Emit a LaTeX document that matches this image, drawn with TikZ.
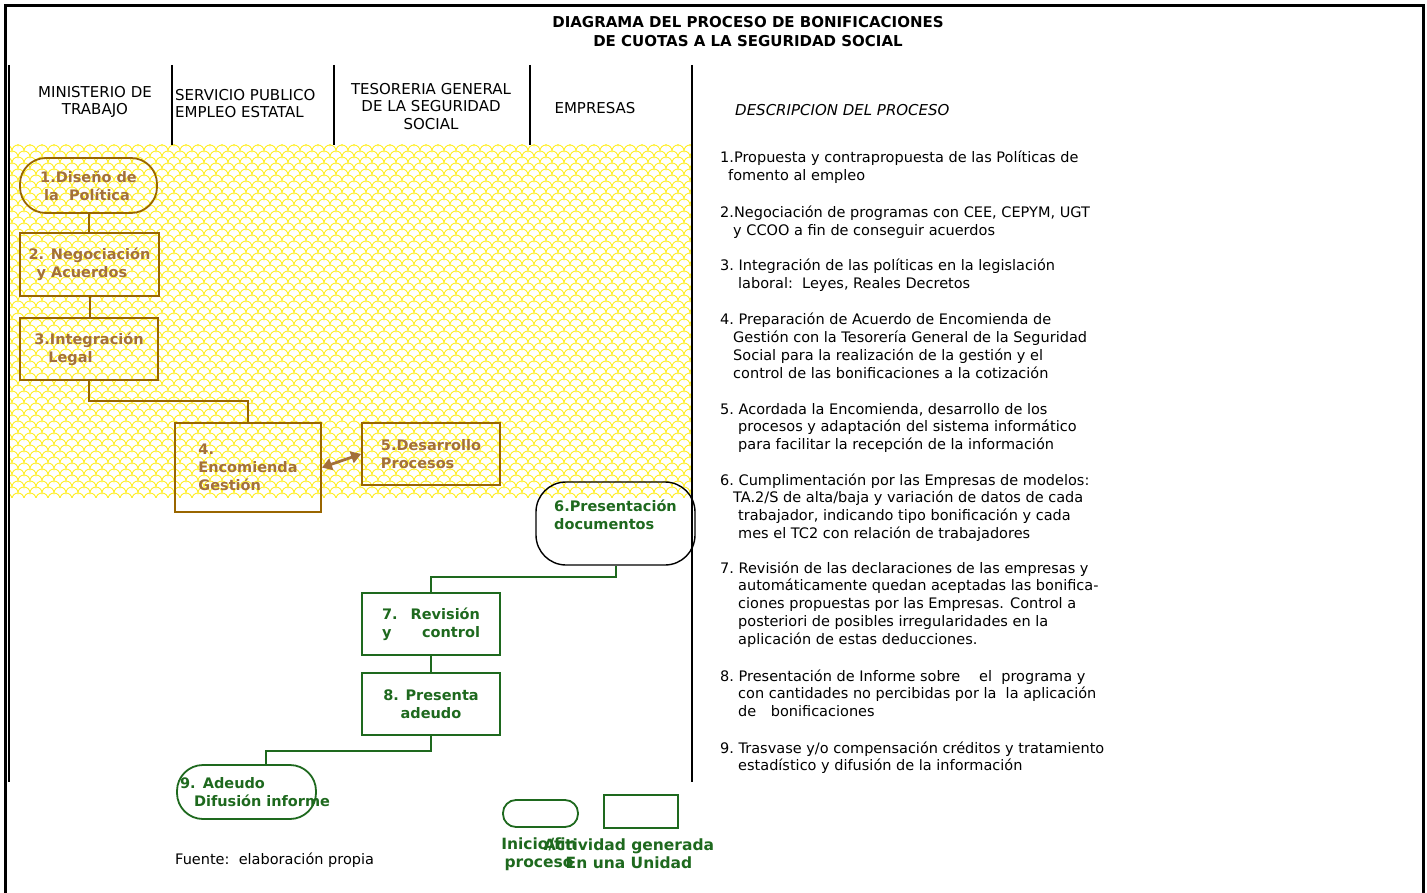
\documentclass[tikz,border=0pt]{standalone}
\usepackage{fontspec}
\setmainfont{DejaVu Sans}[BoldFont={DejaVu Sans Bold},ItalicFont={DejaVu Sans Oblique}]
\usetikzlibrary{positioning,arrows.meta}
\definecolor{bordemarron}{RGB}{153,102,0}
\definecolor{textomarron}{RGB}{163,112,58}
\definecolor{verdeosc}{RGB}{30,105,30}
\definecolor{amarillo}{RGB}{255,238,40}
\tikzset{
    % cajas del flujo
    caja/.style={rectangle, line width=1.8pt, inner sep=3pt,
                 font=\fontsize{14.5}{18}\selectfont\bfseries},
    marron/.style={caja, draw=bordemarron, text=textomarron},
    verde/.style={caja, draw=verdeosc, text=verdeosc},
    % lineas de union
    conector/.style={line width=2pt},
    flechadoble/.style={draw=textomarron, line width=2.8pt,
                        {Triangle[length=10pt,width=12pt]}-{Triangle[length=10pt,width=12pt]}},
    carril/.style={line width=1.3pt},
    cabecera/.style={align=center, font=\fontsize{15}{17.5}\selectfont},
    leyenda/.style={text=verdeosc, align=center, font=\fontsize{15.5}{18}\selectfont\bfseries},
    descr/.style={anchor=base west, align=left, inner sep=0pt,
                  font=\fontsize{14.5}{17.8}\selectfont},
    escamas/.style={draw=amarillo, line width=0.9pt}
}
\begin{document}
\begin{tikzpicture}[x=1pt,y=-1pt]
\useasboundingbox (0,0) rectangle (1427,893);
\draw[line width=3pt] (5,900) -- (5,6) -- (1423,6) -- (1423,900);

% fondo amarillo
\begin{scope}
  \clip (10,145) rectangle (691,497);
  \foreach \j in {0,...,59}{
    \pgfmathsetmacro\desp{mod(\j,2)*6}
    \draw[escamas] ({\desp-6},{145+6*\j})
      \foreach \i in {0,...,58}{ arc[start angle=180,end angle=0,radius=6pt] };
  }
\end{scope}

% carriles
\draw[carril] (9,65) -- (9,782);
\draw[carril] (692,65) -- (692,782);
\foreach \x in {172,334,530}
  \draw[carril] (\x,65) -- (\x,145);

\node[font=\fontsize{15}{19}\selectfont\bfseries, align=center] (titulo) at (748,31.5)
  {DIAGRAMA DEL PROCESO DE BONIFICACIONES\\DE CUOTAS A LA SEGURIDAD SOCIAL};

\node[cabecera] (ministerio) at (95,102) {MINISTERIO DE\\TRABAJO};
\node[cabecera, align=left, anchor=west, inner sep=0pt] (spee) at (175,103.5) {SERVICIO PUBLICO\\EMPLEO ESTATAL};
\node[cabecera] (tgss) at (431,106.5) {TESORERIA GENERAL\\DE LA SEGURIDAD\\SOCIAL};
\node[cabecera] (empresas) at (595,108) {EMPRESAS};
\node[cabecera, anchor=west, inner sep=0pt, font=\fontsize{15}{17.5}\selectfont\itshape] (descripcion) at (735,110) {DESCRIPCION DEL PROCESO};

% flujo
\node[marron, rounded corners=26pt, minimum width=137pt, minimum height=55pt, align=left] (n1) at (88.5,185.5)
  {1.Diseño de\\\hspace*{4pt}la\ \ Política};
\node[marron, minimum width=139pt, minimum height=63pt, align=left] (n2) at (89.5,264.5)
  {2. Negociación\\\hspace*{8pt}y Acuerdos};
\node[marron, minimum width=138pt, minimum height=62pt, align=left] (n3) at (89,349)
  {3.Integración\\\hspace*{14pt}Legal};
\node[marron, minimum width=146pt, minimum height=89pt, align=left] (n4) at (248,467.5)
  {4.\\Encomienda\\Gestión};
\node[marron, minimum width=138pt, minimum height=62pt, align=left] (n5) at (431,454)
  {5.Desarrollo\\Procesos};
\node[verde, draw=black, line width=1.4pt, rounded corners=30pt, minimum width=159pt, minimum height=83pt, align=left] (n6) at (615.5,523.5)
  {6.Presentación\\documentos\\\mbox{}};
\node[verde, minimum width=138pt, minimum height=62pt, text width=98pt, align=left] (n7) at (431,624)
  {7.\hfill Revisión\\y\hfill control};
\node[verde, minimum width=138pt, minimum height=62pt, align=center] (n8) at (431,704)
  {8. Presenta\\adeudo};
\node[verde, rounded corners=26pt, minimum width=139pt, minimum height=54pt, text width=133pt, align=left] (n9) at (246.5,792)
  {9. Adeudo\\\hspace*{14pt}\mbox{Difusión informe}};

\draw[conector, bordemarron] (n1.south) -- (n1.south |- n2.north);
\draw[conector, bordemarron] (n2.south) -- (n2.south |- n3.north);
\draw[conector, bordemarron] (n3.south) -- ++(0,20) -| (n4.north);
\draw[flechadoble] (n4.east) -- (n5.west);
\draw[conector, verdeosc] (n6.south) -- ++(0,11) -| (n7.north);
\draw[conector, verdeosc] (n7.south) -- (n8.north);
\draw[conector, verdeosc] (n8.south) -- ++(0,15) -| ([xshift=19pt]n9.north);

% leyenda
\node[verde, rounded corners=13pt, minimum width=75pt, minimum height=27pt] (ley1) at (540.5,813.5) {};
\node[verde, minimum width=74pt, minimum height=33pt] (ley2) at (641,811.5) {};
\node[leyenda] (ley1txt) at (539,854) {Inicio/fin\\proceso};
\node[leyenda] (ley2txt) at (629,854) {Actividad generada\\En una Unidad};

\node[anchor=base west, inner sep=0pt, font=\fontsize{14.5}{18}\selectfont] (fuente) at (175,864) {Fuente:\ \ elaboración propia};

% descripcion del proceso (base = ultima linea)
\node[descr] (d1) at (720,180.8) {1.Propuesta y contrapropuesta de las Políticas de\\\hspace*{8pt}fomento al empleo};
\node[descr] (d2) at (720,235.8) {2.Negociación de programas con CEE, CEPYM, UGT\\\hspace*{13pt}y CCOO a fin de conseguir acuerdos};
\node[descr] (d3) at (720,288.8) {3.\ Integración de las políticas en la legislación\\\hspace*{18pt}laboral:\ \ Leyes, Reales Decretos};
\node[descr] (d4) at (720,378.4) {4.\ Preparación de Acuerdo de Encomienda de\\\hspace*{13pt}Gestión con la Tesorería General de la Seguridad\\\hspace*{13pt}Social para la realización de la gestión y el\\\hspace*{13pt}control de las bonificaciones a la cotización};
\node[descr] (d5) at (720,449.6) {5.\ Acordada la Encomienda, desarrollo de los\\\hspace*{18pt}procesos y adaptación del sistema informático\\\hspace*{18pt}para facilitar la recepción de la información};
\node[descr] (d6) at (720,538.4) {6.\ Cumplimentación por las Empresas de modelos:\\\hspace*{13pt}TA.2/S de alta/baja y variación de datos de cada\\\hspace*{18pt}trabajador, indicando tipo bonificación y cada\\\hspace*{18pt}mes el TC2 con relación de trabajadores};
\node[descr] (d7) at (720,644.2) {7.\ Revisión de las declaraciones de las empresas y\\\hspace*{18pt}automáticamente quedan aceptadas las bonifica-\\\hspace*{18pt}ciones propuestas por las Empresas. Control a\\\hspace*{18pt}posteriori de posibles irregularidades en la\\\hspace*{18pt}aplicación de estas deducciones.};
\node[descr] (d8) at (720,716.6) {8.\ Presentación de Informe sobre\hspace{1.3em}el\ \ programa y\\\hspace*{18pt}con cantidades no percibidas por la\ \ la aplicación\\\hspace*{18pt}de\hspace{1em}bonificaciones};
\node[descr] (d9) at (720,770.8) {9.\ Trasvase y/o compensación créditos y tratamiento\\\hspace*{18pt}estadístico y difusión de la información};
\end{tikzpicture}
\end{document}
